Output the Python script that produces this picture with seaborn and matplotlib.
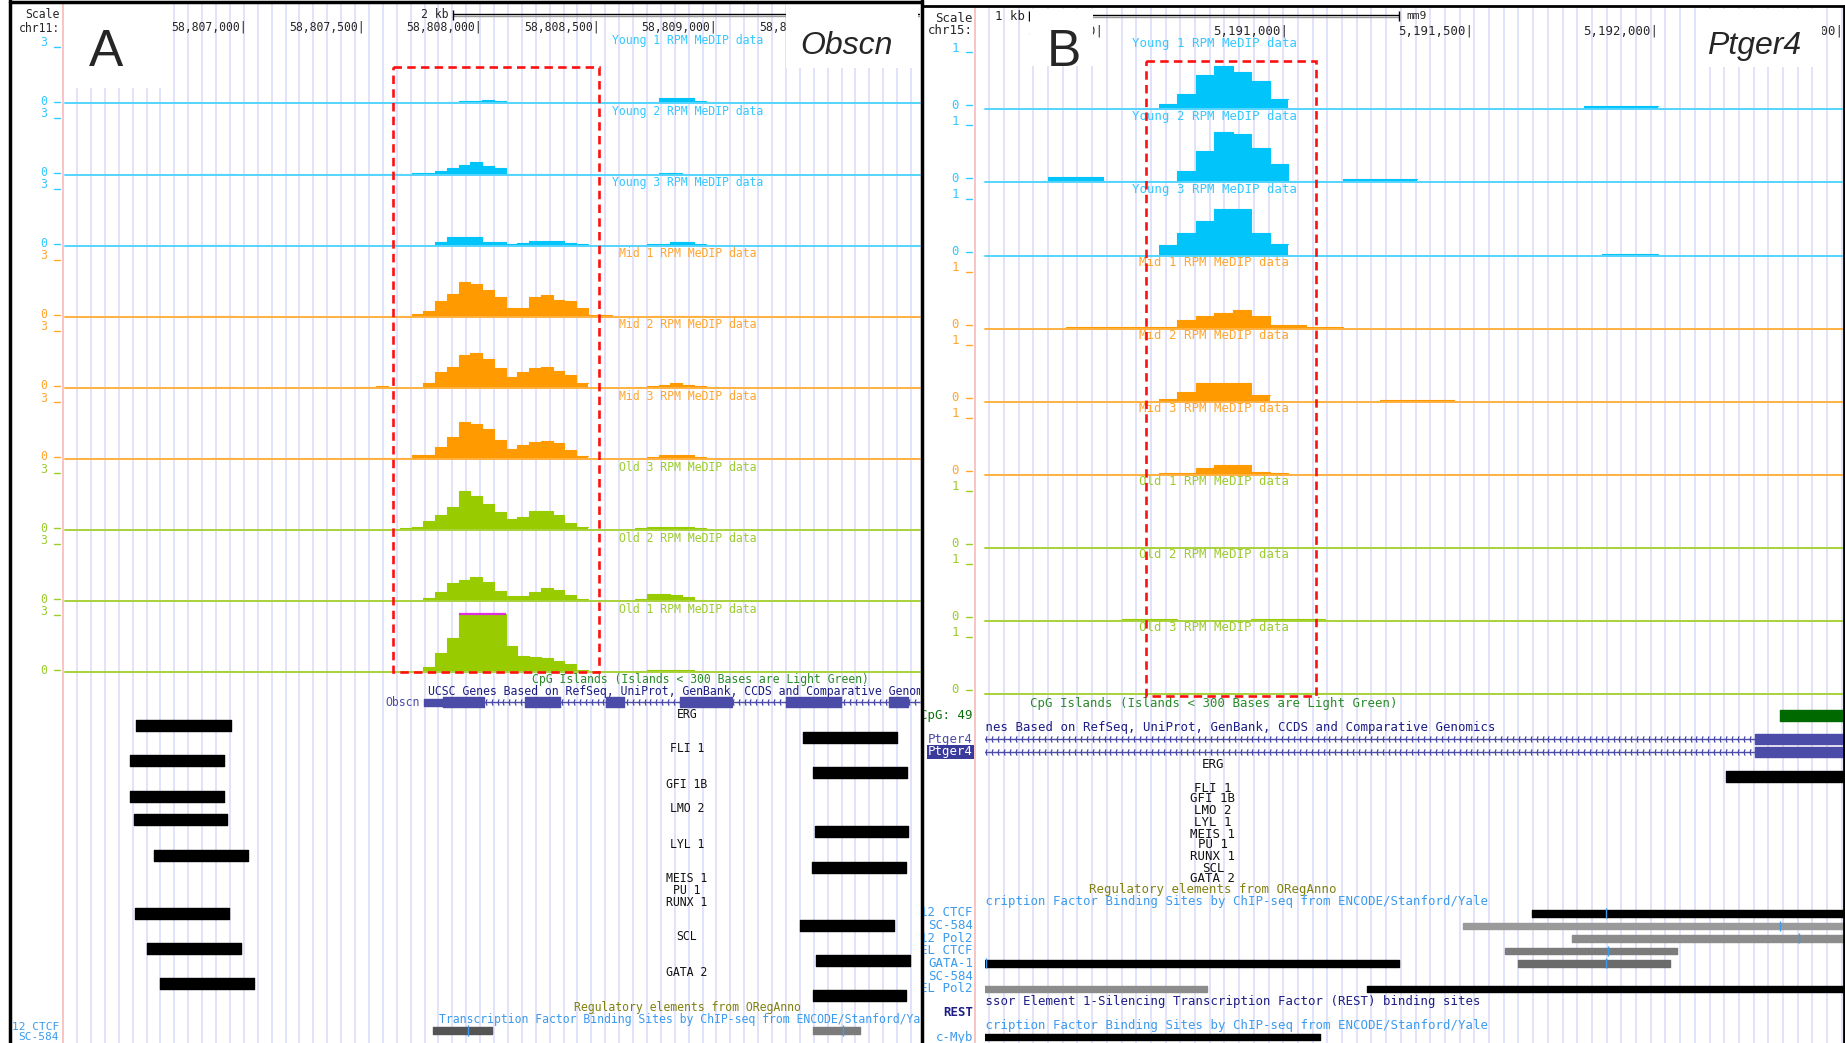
import numpy as np
import matplotlib
matplotlib.use("Agg")
import matplotlib.pyplot as plt
from matplotlib.patches import Rectangle
import seaborn as sns

W, H = 1845, 1043
BIN = 50  # bp per MeDIP bin

# ---------------- Panel A : Obscn, chr11 ----------------
a_ticks = [58807000, 58807500, 58808000, 58808500, 58809000, 58809500]
a_scale = (58807876, 2000)
a_tracks = ["Young 1", "Young 2", "Young 3", "Mid 1", "Mid 2", "Mid 3", "Old 3", "Old 2", "Old 1"]
# (first bin start, RPM values per 50 bp bin), track range 0-3
a_young1 = [(58807350, [0.05, 0.05, 0.05]),
            (58807850, [0.09, 0.14, 0.14, 0.19, 0.12, 0.05]),
            (58808700, [0.09, 0.28, 0.28, 0.28, 0.14])]
a_young2 = [(58806800, [0.04, 0.04, 0.04]),
            (58807400, [0.05, 0.05, 0.05, 0.05, 0.05, 0.0, 0.07, 0.07, 0.2, 0.34,
                        0.48, 0.66, 0.43, 0.34, 0.05, 0.05, 0.05, 0.05, 0.05, 0.05]),
            (58808750, [0.07, 0.07])]
a_young3 = [(58806750, [0.04, 0.04, 0.04, 0.04]),
            (58807450, [0.05]),
            (58807800, [0.2, 0.43, 0.43, 0.43, 0.2, 0.17, 0.09, 0.14, 0.24, 0.24, 0.24, 0.14, 0.09]),
            (58808700, [0.09, 0.09, 0.17, 0.17, 0.07])]
a_mid1 = [(58806750, [0.04, 0.04, 0.04, 0.04]),
          (58807650, [0.05, 0.14, 0.3, 0.83, 1.2, 1.78, 1.72, 1.38, 1.0, 0.48,
                      0.48, 1.03, 1.14, 0.86, 0.81, 0.43, 0.1, 0.09]),
          (58808700, [0.05, 0.05, 0.05, 0.05, 0.05])]
a_mid2 = [(58806850, [0.05, 0.05]),
          (58807450, [0.05, 0.05, 0.1, 0.02, 0.02, 0.02, 0.26, 0.83, 1.07, 1.69,
                      1.81, 1.47, 1.03, 0.57, 0.83, 1.03, 1.09, 0.9, 0.69, 0.26]),
          (58808650, [0.05, 0.1, 0.17, 0.24, 0.17, 0.1, 0.05])]
a_mid3 = [(58806850, [0.04, 0.04]),
          (58807450, [0.05, 0.05, 0.05, 0.05, 0.05, 0.2, 0.2, 0.6, 1.12, 1.93,
                      1.81, 1.55, 0.98, 0.52, 0.72, 0.9, 0.95, 0.85, 0.45, 0.17]),
          (58808700, [0.09, 0.2, 0.2, 0.2, 0.09])]
a_old3 = [(58807450, [0.03, 0.03, 0.03, 0.03, 0.09, 0.17, 0.48, 0.78, 1.17, 2.03,
                      1.76, 1.34, 0.95, 0.57, 0.69, 1.0, 1.0, 0.78, 0.38, 0.17]),
          (58808650, [0.09, 0.17, 0.17, 0.17, 0.17, 0.09])]
a_old2 = [(58807750, [0.14, 0.48, 0.95, 1.12, 1.26, 1.0, 0.55, 0.26, 0.26, 0.48, 0.66, 0.57, 0.34, 0.09]),
          (58808650, [0.09, 0.38, 0.38, 0.3, 0.2, 0.07])]
a_old1 = [(58806800, [0.05, 0.05, 0.05]),
          (58807550, [0.03, 0.03, 0.09, 0.03, 0.26, 1.0, 1.78, 3.4, 3.6, 3.5,
                      3.3, 1.38, 0.86, 0.81, 0.72, 0.6, 0.43, 0.1]),
          (58808650, [0.05, 0.1, 0.1, 0.1, 0.1, 0.05])]
a_highlight = (58807620, 58808495)
a_gene = "Obscn"
a_gene_span = (58807753, 58810000)
a_utr = [(58807753, 58807833)]
a_exons = [(58807833, 58808008), (58808182, 58808331), (58808527, 58808603),
           (58808841, 58809062), (58809292, 58809526), (58809730, 58809811)]
a_sites_left = [("ERG", 58806528, 58806932), ("FLI 1", 58806503, 58806902),
                ("GFI 1B", 58806503, 58806902), ("LMO 2", 58806520, 58806915),
                ("LYL 1", 58806605, 58807004), ("RUNX 1", 58806524, 58806923),
                ("SCL", 58806575, 58806974), ("GATA 2", 58806630, 58807030)]
a_sites_right = [("ERG", 58809364, 58809764), ("FLI 1", 58809407, 58809806),
                 ("LMO 2", 58809415, 58809811), ("LYL 1", 58809402, 58809802),
                 ("RUNX 1", 58809351, 58809751), ("SCL", 58809420, 58809819),
                 ("GATA 2", 58809407, 58809802)]
a_tfbs_rows = ["12 CTCF", "SC-584"]
a_tfbs = [(58807791, 58808042, 700, 58807940), (58809407, 58809607, 560, 58809534)]

# ---------------- Panel B : Ptger4, chr15 ----------------
b_ticks = [5190500, 5191000, 5191500, 5192000, 5192500]
b_scale = (5190300, 1000)
b_tracks = ["Young 1", "Young 2", "Young 3", "Mid 1", "Mid 2", "Mid 3", "Old 1", "Old 2", "Old 3"]
# track range 0-1
b_young1 = [(5190650, [0.08, 0.25, 0.56, 0.7, 0.6, 0.45, 0.16]),
            (5191800, [0.05, 0.05, 0.05, 0.05])]
b_young2 = [(5190350, [0.08, 0.08, 0.08, 0.03, 0.03, 0.03, 0.0, 0.19, 0.51, 0.81,
                       0.78, 0.56, 0.3, 0.02, 0.02]),
            (5191150, [0.06, 0.06, 0.06, 0.06])]
b_young3 = [(5190650, [0.17, 0.37, 0.56, 0.75, 0.75, 0.37, 0.19]),
            (5191850, [0.03, 0.03, 0.03])]
b_mid1 = [(5190400, [0.02, 0.02, 0.02, 0.02, 0.02, 0.02, 0.13, 0.21, 0.25, 0.3,
                     0.2, 0.05, 0.05, 0.02, 0.02])]
b_mid2 = [(5190650, [0.04, 0.16, 0.3, 0.3, 0.3, 0.11]),
          (5191250, [0.02, 0.02, 0.02, 0.02])]
b_mid3 = [(5190650, [0.03, 0.03, 0.11, 0.15, 0.15, 0.05, 0.02])]
b_old1 = []
b_old2 = [(5190550, [0.03, 0.03, 0.03]), (5190900, [0.03, 0.03, 0.03, 0.03])]
b_old3 = [(5190700, [0.02, 0.02, 0.02]), (5191000, [0.02, 0.02, 0.02])]
b_highlight = (5190615, 5191075)
b_gene = "Ptger4"
b_gene_span = (5190000, 5192700)
b_exons = [(5192262, 5192700)]
b_cpg_label = "CpG: 49"
b_cpg = [(5192330, 5192700)]
b_sites = [("ERG", 5192184, 5192700)]
b_tfbs_rows = ["12 CTCF", "SC-584", "12 Pol2", "EL CTCF", "GATA-1", "SC-584", "EL Pol2"]
b_tfbs = [(0, 5191660, 5192700, 1000, 5191860), (1, 5191473, 5192700, 450, 5192330),
          (2, 5191768, 5192700, 500, 5192381), (3, 5191587, 5192051, 560, 5191865),
          (4, 5190100, 5191300, 1000, 5190183), (4, 5191622, 5192033, 620, 5191860),
          (6, 5190100, 5190781, 500, None), (6, 5191214, 5192700, 1000, None)]
b_cmyb = [(5190100, 5191086)]

factors = ["ERG", "FLI 1", "GFI 1B", "LMO 2", "LYL 1", "MEIS 1", "PU 1", "RUNX 1", "SCL", "GATA 2"]

# ---------------- style / layout ----------------
FILL = {"Young": "#00C4FA", "Mid": "#FF9A00", "Old": "#99CC00"}
LINE = {"Young": "#55D5FF", "Mid": "#FFB040", "Old": "#A8D23A"}
TEXT = {"Young": "#33C8FF", "Mid": "#FFA530", "Old": "#9CCC30"}
GRID = "#DDDDFA"
PINK = "#F8C4C4"
NAVY = "#1C1C84"
GENE_C = "#4B4BA8"
CPG_C = "#2A8A2A"
TFBS_C = "#3A9AEE"
OLIVE = "#808010"
FS_A, FS_B = 8.3, 8.9
LETTER_FONT = ["Liberation Sans", "DejaVu Sans"]

A_X0, A_X1 = 65, 920
B_X0, B_X1 = 985, 1843


def a_bp(px):
    return 58807000 + (px - 247) * 4.252


def b_bp(px):
    return 5191000 + (px - 1288) * 2.703


def gray(score):
    v = min(1.0, (1000 - score) / 1000 * 1.1)
    return (v, v, v)


sns.set_theme(style="white")
plt.rcParams["font.family"] = ["DejaVu Sans Mono", "DejaVu Sans"]

fig = plt.figure(figsize=(W / 100, H / 100), dpi=100)
fig.patch.set_facecolor("white")


def px_axes(x0, y0, x1, y1):
    ax = fig.add_axes([x0 / W, 1 - y1 / H, (x1 - x0) / W, (y1 - y0) / H])
    ax.set_axis_off()
    return ax


# background canvas: browser grid, pink guide lines, track labels
bg = px_axes(0, 0, W, H)
bg.set_xlim(0, W)
bg.set_ylim(H, 0)
bg.vlines(np.arange(77, A_X1, 13.9), 3, H, color=GRID, lw=1.2)
bg.vlines(np.arange(989.2, B_X1, 14.7), 8, H, color=GRID, lw=1.2)
bg.vlines([63, 975], [3, 8], H, color=PINK, lw=1.4)


def draw_signal(ax, segments, ymax, color):
    for start, vals in segments:
        v = np.asarray(vals, dtype=float)
        x = start + BIN * np.arange(len(v) + 1)
        y = np.minimum(np.append(v, v[-1]), ymax)
        ax.fill_between(x, 0, y, step="post", color=color, lw=0)
        sns.lineplot(x=x, y=y, drawstyle="steps-post", color=color, lw=0.8,
                     ax=ax, legend=False)
        clipped = np.flatnonzero(v > ymax)
        if clipped.size:
            ax.hlines(ymax, x[clipped[0]], x[clipped[-1] + 1], color="#E030E0",
                      lw=1.6, clip_on=False)


def draw_tracks(names, signals, x0, x1, xlim, base0, step, th, ymax, lab_x, lab_dy,
                fs, dig_x, dash_x, zero_dy):
    for i, (name, seg) in enumerate(zip(names, signals)):
        grp = name.split()[0]
        yb = base0 + step * i
        ax = px_axes(x0, yb - th, x1, yb)
        draw_signal(ax, seg, ymax, FILL[grp])
        ax.axhline(0, color=LINE[grp], lw=1.4, clip_on=False)
        ax.set_xlim(*xlim)
        ax.set_ylim(0, ymax)
        bg.text(lab_x, yb - lab_dy, f"{name} RPM MeDIP data", color=TEXT[grp],
                fontsize=fs, ha="center", va="center")
        bg.text(dig_x, yb - 61, f"{ymax:g}", color=TEXT[grp], fontsize=fs,
                ha="center", va="center")
        bg.plot(dash_x, [yb - 57, yb - 57], color=TEXT[grp], lw=1)
        bg.text(dig_x, yb - zero_dy, "0", color=TEXT[grp], fontsize=fs,
                ha="center", va="center")
        bg.plot(dash_x, [yb - zero_dy, yb - zero_dy], color=TEXT[grp], lw=1)


a_xlim = (a_bp(A_X0), a_bp(A_X1))
b_xlim = (b_bp(B_X0), b_bp(B_X1))

draw_tracks(a_tracks, [a_young1, a_young2, a_young3, a_mid1, a_mid2, a_mid3, a_old3, a_old2, a_old1],
            A_X0, A_X1, a_xlim, 103.5, 71.1, 58, 3, 688, 63, FS_A, 44, [54, 60], 2)
draw_tracks(b_tracks, [b_young1, b_young2, b_young3, b_mid1, b_mid2, b_mid3, b_old1, b_old2, b_old3],
            B_X0, B_X1, b_xlim, 109.4, 73.05, 62, 1, 1214, 66, FS_B, 955, [966, 972], 4)


def ann_axes(x0, x1, xlim):
    ax = px_axes(x0, 0, x1, H)
    ax.set_xlim(*xlim)
    ax.set_ylim(H, 0)
    return ax


def draw_ruler(ax, ticks, scale, ty, sy, fs, assembly=None):
    for t in ticks:
        ax.text(t, ty, f"{t:,}|", ha="right", va="center", fontsize=fs, clip_on=True)
    s, L = scale
    ax.hlines(sy - 1, s, s + L, color="black", lw=1.0)
    ax.hlines(sy + 1, s, s + L, color="#9A9A9A", lw=1.0)
    ax.vlines([s, s + L], sy - 5, sy + 5, color="black", lw=1.0)
    ax.annotate(f"{L // 1000} kb", (s, sy), xytext=(-3, 0), textcoords="offset points",
                ha="right", va="center", fontsize=fs)
    if assembly:
        ax.annotate(assembly, (s + L, sy), xytext=(5, 0), textcoords="offset points",
                    ha="left", va="center", fontsize=fs - 0.8)


def draw_gene(ax, span, exons, y, step_bp, h=10, utr=()):
    g0, g1 = span
    ax.hlines(y, g0, g1, color=GENE_C, lw=1)
    chev = np.arange(g0 + step_bp / 2, g1, step_bp)
    ax.plot(chev, np.full(chev.shape, y), ls="none", marker=r"$\langle$", ms=4,
            color=GENE_C, mew=0.5)
    if utr:
        ax.broken_barh([(s, e - s) for s, e in utr], (y - 3.5, 7), color=GENE_C, zorder=3)
    ax.broken_barh([(s, e - s) for s, e in exons], (y - h / 2, h), color=GENE_C, zorder=3)


# ---------------- Panel A annotations ----------------
annA = ann_axes(A_X0, A_X1, a_xlim)
draw_ruler(annA, a_ticks, a_scale, 27, 15, FS_A)
annA.text(a_bp(700), 680, "CpG Islands (Islands < 300 Bases are Light Green)",
          color=CPG_C, ha="center", va="center", fontsize=FS_A)
annA.text(a_bp(428), 691, "UCSC Genes Based on RefSeq, UniProt, GenBank, CCDS and Comparative Genomics",
          color=NAVY, ha="left", va="center", fontsize=FS_A, clip_on=True)
draw_gene(annA, a_gene_span, a_exons, 702, 25, utr=a_utr)
annA.annotate(a_gene, (a_gene_span[0], 702), xytext=(-3, 0), textcoords="offset points",
              ha="right", va="center", color=GENE_C, fontsize=FS_A)
a_fy = dict(zip(factors, [714, 749, 785, 808, 844, 879, 891, 902, 937, 972]))
for f in factors:
    annA.text(a_bp(687), a_fy[f], f, ha="center", va="center", fontsize=FS_A, color="#111111")
for f, s, e in a_sites_left:
    annA.broken_barh([(s, e - s)], (a_fy[f] + 6, 11), color="black")
for f, s, e in a_sites_right:
    annA.broken_barh([(s, e - s)], (a_fy[f] + 18, 11), color="black")
annA.text(a_bp(687), 1008, "Regulatory elements from ORegAnno", color=OLIVE,
          ha="center", va="center", fontsize=FS_A)
annA.text(a_bp(439), 1019, "Transcription Factor Binding Sites by ChIP-seq from ENCODE/Stanford/Yale",
          color=TFBS_C, ha="left", va="center", fontsize=FS_A, clip_on=True)
for s, e, score, peak in a_tfbs:
    annA.broken_barh([(s, e - s)], (1027, 7), color=gray(score))
    annA.vlines(peak, 1025, 1036, color=TFBS_C, lw=1)
h0, h1 = a_highlight
annA.add_patch(Rectangle((h0, 67), h1 - h0, 605, fill=False, ec="#FF1010", lw=1.9,
                         ls=(0, (3.2, 2.0)), zorder=5))

# ---------------- Panel B annotations ----------------
annB = ann_axes(B_X0, B_X1, b_xlim)
draw_ruler(annB, b_ticks, b_scale, 31, 16, FS_B, assembly="mm9")
annB.text(b_bp(1214), 703, "CpG Islands (Islands < 300 Bases are Light Green)",
          color=CPG_C, ha="center", va="center", fontsize=FS_B)
annB.broken_barh([(s, e - s) for s, e in b_cpg], (710, 11), color="#006A00")
annB.text(b_bp(933), 727, "UCSC Genes Based on RefSeq, UniProt, GenBank, CCDS and Comparative Genomics",
          color=NAVY, ha="left", va="center", fontsize=FS_B, clip_on=True)
draw_gene(annB, b_gene_span, b_exons, 739, 16)
draw_gene(annB, b_gene_span, b_exons, 752, 16)
b_fy = dict(zip(factors, [764, 788, 799, 811, 822, 834, 845, 856, 868, 879]))
for f in factors:
    annB.text(b_bp(1213), b_fy[f], f, ha="center", va="center", fontsize=FS_B, color="#111111")
for f, s, e in b_sites:
    annB.broken_barh([(s, e - s)], (b_fy[f] + 7, 11), color="black")
annB.text(b_bp(1213), 890, "Regulatory elements from ORegAnno", color=OLIVE,
          ha="center", va="center", fontsize=FS_B)
annB.text(b_bp(948), 902, "Transcription Factor Binding Sites by ChIP-seq from ENCODE/Stanford/Yale",
          color=TFBS_C, ha="left", va="center", fontsize=FS_B, clip_on=True)
for row, s, e, score, peak in b_tfbs:
    y = 913 + 12.6 * row
    annB.broken_barh([(s, e - s)], (y - 3, 6.5), color=gray(score))
    if peak is not None:
        annB.vlines(peak, y - 5, y + 5, color=TFBS_C, lw=1)
annB.text(b_bp(948), 1002, "Repressor Element 1-Silencing Transcription Factor (REST) binding sites",
          color=NAVY, ha="left", va="center", fontsize=FS_B, clip_on=True)
annB.text(b_bp(948), 1026, "Transcription Factor Binding Sites by ChIP-seq from ENCODE/Stanford/Yale",
          color=TFBS_C, ha="left", va="center", fontsize=FS_B, clip_on=True)
annB.broken_barh([(s, e - s) for s, e in b_cmyb], (1034, 6), color="black")
h0, h1 = b_highlight
annB.add_patch(Rectangle((h0, 61), h1 - h0, 635, fill=False, ec="#FF1010", lw=1.9,
                         ls=(0, (3.2, 2.0)), zorder=5))

# ---------------- top canvas: labels, boxes, frames ----------------
top = px_axes(0, 0, W, H)
top.set_xlim(0, W)
top.set_ylim(H, 0)
for x0, y0, x1, y1 in [(72, 4, 163, 88), (786, 4, 918, 68), (1030, 9, 1093, 66), (1700, 9, 1822, 67)]:
    top.add_patch(Rectangle((x0, y0), x1 - x0, y1 - y0, fc="white", ec="none"))
top.text(106, 52, "A", fontsize=37, family=LETTER_FONT, ha="center", va="center")
top.text(1064, 53, "B", fontsize=37, family=LETTER_FONT, ha="center", va="center")
top.text(846, 54, a_gene, fontsize=23, style="italic", family=LETTER_FONT, ha="center", va="baseline")
top.text(1754, 54, b_gene, fontsize=23, style="italic", family=LETTER_FONT, ha="center", va="baseline")

top.text(60, 15, "Scale", ha="right", va="center", fontsize=FS_A)
top.text(60, 28, "chr11:", ha="right", va="center", fontsize=FS_A)
top.text(973, 18, "Scale", ha="right", va="center", fontsize=FS_B)
top.text(973, 31, "chr15:", ha="right", va="center", fontsize=FS_B)

for i, r in enumerate(a_tfbs_rows):
    top.text(59, 1026.5 + 11 * i, r, ha="right", va="center", fontsize=FS_A - 0.3, color=TFBS_C)

# row labels of panel B live in a strip clipped at the panel border
lab = px_axes(924, 0, 976, H)
lab.set_xlim(924, 976)
lab.set_ylim(H, 0)
lab.text(973, 715, b_cpg_label, ha="right", va="center", fontsize=FS_B, color="#0A700A", clip_on=True)
lab.text(973, 739, b_gene, ha="right", va="center", fontsize=FS_B, color=GENE_C, clip_on=True)
lab.text(973, 752, b_gene, ha="right", va="center", fontsize=FS_B, color="white",
         bbox=dict(fc="#3A3A9A", ec="none", pad=0.6), clip_on=True)
for i, r in enumerate(b_tfbs_rows):
    lab.text(973, 913 + 12.6 * i, r, ha="right", va="center", fontsize=FS_B, color=TFBS_C, clip_on=True)
lab.text(973, 1013, "REST", ha="right", va="center", fontsize=FS_B, color=NAVY, fontweight="bold",
         clip_on=True)
lab.text(973, 1037, "c-Myb", ha="right", va="center", fontsize=FS_B, color=TFBS_C, clip_on=True)

# panel frames
top.plot([10, 10], [0, H], color="black", lw=2.5)
top.plot([10, 921], [1.5, 1.5], color="black", lw=2.5)
top.plot([921.5, 921.5], [0, H], color="black", lw=2.5)
top.plot([923, W], [6, 6], color="black", lw=2)
top.plot([1843.5, 1843.5], [6, H], color="black", lw=2)

fig.savefig("out.png", dpi=100, facecolor="white")
